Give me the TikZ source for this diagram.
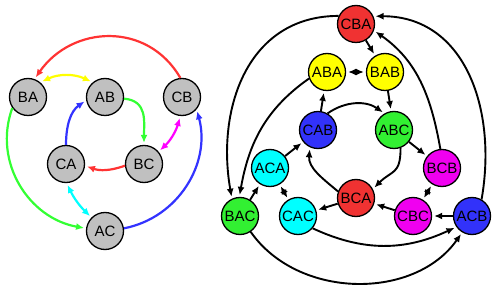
\documentclass[tikz,border=0pt]{standalone}
\usepackage{fontspec}
\setmainfont{Liberation Sans}
\usetikzlibrary{arrows.meta}
\definecolor{nred}{RGB}{240,50,50}
\definecolor{nyellow}{RGB}{255,255,0}
\definecolor{ngreen}{RGB}{50,240,50}
\definecolor{nblue}{RGB}{50,50,250}
\definecolor{ncyan}{RGB}{0,255,255}
\definecolor{nmagenta}{RGB}{240,0,240}
\definecolor{ngray}{RGB}{192,192,192}
\definecolor{ered}{RGB}{255,51,51}
\definecolor{eyellow}{RGB}{255,255,0}
\definecolor{egreen}{RGB}{51,255,51}
\definecolor{eblue}{RGB}{51,51,255}
\definecolor{ecyan}{RGB}{0,255,255}
\definecolor{emagenta}{RGB}{255,0,255}
\begin{document}
\begin{tikzpicture}[x=1pt,y=1pt,
  vtx/.style={circle,draw=black,line width=1.3pt,minimum size=37pt,inner sep=0pt,
    font=\fontsize{15}{15}\selectfont},
  con/.style={line width=1.9pt,-{Latex[length=8pt,width=7pt]},shorten >=2pt},
  bicon/.style={line width=1.9pt,{Latex[length=8pt,width=7pt]}-{Latex[length=8pt,width=7pt]},
    shorten >=2pt,shorten <=2pt},
  thick col/.style={line width=2.2pt}]
\useasboundingbox (0,0) rectangle (500,289);
% left graph
\node[vtx,fill=ngray] (BA) at (28,192) {BA};
\node[vtx,fill=ngray] (AB) at (105,192) {AB};
\node[vtx,fill=ngray] (CB) at (182,192) {CB};
\node[vtx,fill=ngray] (CA) at (66,125) {CA};
\node[vtx,fill=ngray] (BC) at (144,125) {BC};
\node[vtx,fill=ngray] (AC) at (105,58) {AC};
\draw[con,thick col,ered] (CB.95) to[out=120,in=55,looseness=1.15] (BA.70);
\draw[bicon,thick col,eyellow] (BA.50) to[bend left=25] (AB.130);
\draw[con,thick col,egreen] (AB.-5) to[out=-5,in=90,looseness=1.2] (BC.90);
\draw[bicon,thick col,emagenta] (CB.265) to[bend left=15] (BC.40);
\draw[con,thick col,ered] (BC.185) to[bend left=20] (CA.-5);
\draw[con,thick col,eblue] (CA.90) to[out=90,in=215] (AB.190);
\draw[bicon,thick col,ecyan] (CA.-88) to[bend right=10] (AC.135);
\draw[con,thick col,egreen] (BA.215) to[out=-110,in=170,looseness=1.05] (AC.172);
\draw[con,thick col,eblue] (AC.8) to[out=11,in=-75,looseness=1.02] (CB.-40);
% right graph
\node[vtx,fill=nred] (CBA) at (356,265) {CBA};
\node[vtx,fill=nyellow] (ABA) at (327,217) {ABA};
\node[vtx,fill=nyellow] (BAB) at (385,217) {BAB};
\node[vtx,fill=nblue] (CAB) at (318,159) {CAB};
\node[vtx,fill=ngreen] (ABC) at (394,159) {ABC};
\node[vtx,fill=ncyan] (ACA) at (270,121) {ACA};
\node[vtx,fill=nmagenta] (BCB) at (442,121) {BCB};
\node[vtx,fill=nred] (BCA) at (356,91) {BCA};
\node[vtx,fill=ngreen] (BAC) at (240,73) {BAC};
\node[vtx,fill=ncyan] (CAC) at (298,73) {CAC};
\node[vtx,fill=nmagenta] (CBC) at (413,73) {CBC};
\node[vtx,fill=nblue] (ACB) at (472,73) {ACB};
\draw[con] (CBA) -- (BAB);
\draw[bicon] (ABA) -- (BAB);
\draw[con] (BAB) -- (ABC);
\draw[con] (CAB) -- (ABA);
\draw[con] (ABC) -- (BCB);
\draw[bicon] (BCB) -- (CBC);
\draw[con] (CBC) -- (BCA);
\draw[con] (ACB) -- (CBC);
\draw[con] (BCA) -- (CAC);
\draw[bicon] (ACA) -- (CAC);
\draw[con] (ACA) -- (CAB);
\draw[con] (BAC) -- (ACA);
\draw[con] (CAB.60) to[bend left=35] (ABC.120);
\draw[con] (ABC.-70) to[out=-90,in=45,looseness=1.4] (BCA.28);
\draw[con] (BCA.160) to[out=140,in=-95] (CAB.-115);
\draw[con] (CBA.155) to[out=180,in=100,looseness=1.1] (BAC.115);
\draw[con] (ABA.200) to[out=215,in=80] (BAC.92);
\draw[con] (ACB.60) to[out=80,in=0,looseness=1.1] (CBA.24);
\draw[con] (BCB.95) to[out=100,in=-35] (CBA.-20);
\draw[con] (BAC.-56) to[out=-55,in=-125] (ACB.-121);
\draw[con] (CAC.-40) to[out=-25,in=-155] (ACB.-145);
\end{tikzpicture}
\end{document}
